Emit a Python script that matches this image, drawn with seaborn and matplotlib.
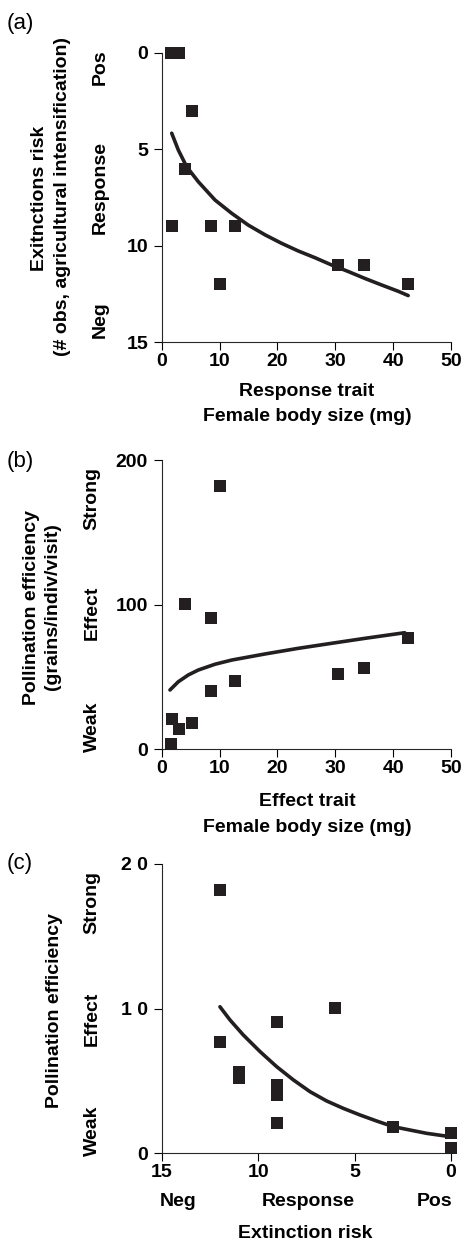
import matplotlib
matplotlib.use("Agg")
import matplotlib.pyplot as plt
import numpy as np
import pandas as pd
import seaborn as sns

# species values (one entry per species)
body_size = [1.6, 3.0, 5.3, 4.1, 1.7, 8.5, 8.6, 12.7, 10.1, 30.4, 35.0, 42.5]
extinction_risk = [0, 0, 3, 6, 9, 9, 9, 9, 12, 11, 11, 12]
pollination = [3.7, 14, 18, 100.7, 21, 91, 40, 47, 182, 52, 56, 77]

# fitted curves, points
fit_a_x = [1.73, 2.87, 4.32, 6.32, 9.21, 12.1, 14.96, 17.9, 20.7, 23.6,
           26.5, 29.4, 32.3, 35.1, 38.0, 40.9, 42.6]
fit_a_y = [4.17, 5.04, 5.91, 6.68, 7.63, 8.32, 8.93, 9.44, 9.87, 10.27,
           10.62, 11.0, 11.34, 11.69, 12.03, 12.36, 12.58]
fit_b_x = [1.43, 2.87, 4.6, 6.32, 9.21, 12.1, 17.85, 23.6, 29.4, 35.1, 42.0]
fit_b_y = [41.0, 46.7, 51.4, 54.8, 58.8, 61.7, 65.9, 69.8, 73.3, 76.7, 80.6]
fit_c_x = [11.98, 11.46, 10.77, 9.90, 9.04, 8.17, 7.31, 6.45, 5.59, 4.72,
           3.85, 2.99, 2.13, 1.26, 0.05]
fit_c_y = [10.13, 9.22, 8.18, 7.03, 5.99, 5.07, 4.26, 3.62, 3.11, 2.65,
           2.23, 1.84, 1.61, 1.38, 1.15]

x_ticks_size = [0, 10, 20, 30, 40, 50]
y_ticks_a = [0, 5, 10, 15]
y_ticks_b = [0, 100, 200]
y_ticks_c = [0, 10, 20]
y_ticklabels_c = ["0", "1 0", "2 0"]
x_ticks_c = [15, 10, 5, 0]

W, H = 464, 1244
INK = "#231f20"

sns.set_style("ticks")
plt.rcParams["font.family"] = ["Liberation Sans", "DejaVu Sans"]
plt.rcParams["axes.linewidth"] = 0.8
plt.rcParams["xtick.major.size"] = 5.8
plt.rcParams["ytick.major.size"] = 5.8
plt.rcParams["xtick.major.width"] = 0.8
plt.rcParams["ytick.major.width"] = 0.8
plt.rcParams["lines.solid_capstyle"] = "round"
plt.rcParams["lines.solid_joinstyle"] = "round"

df = pd.DataFrame({"size": body_size, "risk": extinction_risk, "eff": pollination})
df["eff10"] = df["eff"] / 10.0

fig = plt.figure(figsize=(W / 100, H / 100), dpi=100)


def box(top, bottom, left=161.7, right=451.0):
    return [left / W, 1 - bottom / H, (right - left) / W, (bottom - top) / H]


def txt(x, y, s, size=14, weight="bold", rot=0, ha="center"):
    fig.text(x / W, 1 - y / H, s, fontsize=size, fontweight=weight,
             rotation=rot, ha=ha, va="center", color="black")


def style(ax):
    sns.despine(ax=ax)
    ax.tick_params(labelsize=14, pad=2, colors="black")
    ax.tick_params(axis="y", pad=4)
    for lab in ax.get_xticklabels() + ax.get_yticklabels():
        lab.set_fontweight("bold")
    ax.set_xlabel("")
    ax.set_ylabel("")


def panel(ax, fx, fy, xcol, ycol):
    sns.lineplot(x=fx, y=fy, ax=ax, color=INK, lw=2.6, sort=False)
    sns.scatterplot(data=df, x=xcol, y=ycol, ax=ax, marker="s", s=80,
                    color=INK, linewidth=0, clip_on=False, zorder=3)


# (a) extinction risk vs body size
ax_a = fig.add_axes(box(52.7, 342.3))
panel(ax_a, fit_a_x, fit_a_y, "size", "risk")
ax_a.set_xlim(0, 50)
ax_a.set_ylim(15, 0)
ax_a.set_xticks(x_ticks_size)
ax_a.set_yticks(y_ticks_a)
style(ax_a)

# (b) pollination efficiency vs body size
ax_b = fig.add_axes(box(460.0, 749.3))
panel(ax_b, fit_b_x, fit_b_y, "size", "eff")
ax_b.set_xlim(0, 50)
ax_b.set_ylim(0, 200)
ax_b.set_xticks(x_ticks_size)
ax_b.set_yticks(y_ticks_b)
style(ax_b)

# (c) pollination efficiency vs extinction risk
ax_c = fig.add_axes(box(864.0, 1153.3))
panel(ax_c, fit_c_x, fit_c_y, "risk", "eff10")
ax_c.set_xlim(15, 0)
ax_c.set_ylim(0, 20)
ax_c.set_xticks(x_ticks_c)
ax_c.set_yticks(y_ticks_c)
ax_c.set_yticklabels(y_ticklabels_c)
style(ax_c)

# panel letters
txt(7, 23, "(a)", size=16, weight="normal", ha="left")
txt(7, 462, "(b)", size=16, weight="normal", ha="left")
txt(7, 863, "(c)", size=16, weight="normal", ha="left")

# panel (a) labels
txt(40, 198, "Exitnctions risk", rot=90)
txt(63, 197, "(# obs, agricultural intensification)", rot=90)
txt(100, 67, "Pos", rot=90)
txt(100, 187, "Response", rot=90)
txt(100, 320, "Neg", rot=90)
txt(307, 392, "Response trait")
txt(307, 417, "Female body size (mg)")

# panel (b) labels
txt(32, 607, "Pollination efficiency", rot=90)
txt(53, 607, "(grains/indiv/visit)", rot=90)
txt(92, 498, "Strong", rot=90)
txt(92, 613, "Effect", rot=90)
txt(92, 727, "Weak", rot=90)
txt(307, 802, "Effect trait")
txt(307, 827, "Female body size (mg)")

# panel (c) labels
txt(55, 1010, "Pollination efficiency", rot=90)
txt(92, 903, "Strong", rot=90)
txt(92, 1019, "Effect", rot=90)
txt(92, 1131, "Weak", rot=90)
txt(178, 1202, "Neg")
txt(308, 1202, "Response")
txt(435, 1202, "Pos")
txt(305, 1233, "Extinction risk")

fig.savefig("out.png", dpi=100)
